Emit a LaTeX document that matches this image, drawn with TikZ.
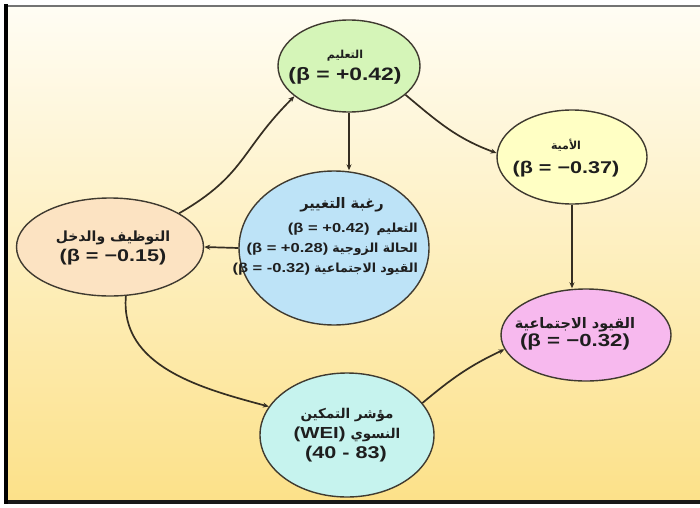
\documentclass[tikz,border=0pt]{standalone}
\usepackage{fontspec}
\setmainfont{Liberation Sans}
\newfontfamily\widefont{Liberation Sans}[FakeStretch=1.27]
\newfontfamily\arabicfont[Script=Arabic]{DejaVu Sans}
\TeXXeTstate=1
\usetikzlibrary{shapes.geometric,arrows.meta}
\definecolor{bgtop}{HTML}{FFFDF4}
\definecolor{bgmid}{HTML}{FFF3CC}
\definecolor{bgbot}{HTML}{FCE189}
\definecolor{edgecol}{HTML}{3F3A30}
\definecolor{linkcol}{HTML}{352E22}
\definecolor{txtcol}{HTML}{1E1E1E}
\definecolor{gfill}{HTML}{D5F5B8}
\definecolor{yfill}{HTML}{FFFFC4}
\definecolor{bfill}{HTML}{BDE3F7}
\definecolor{pfill}{HTML}{FCE3C2}
\definecolor{kfill}{HTML}{F7B9EE}
\definecolor{cfill}{HTML}{C6F3EE}
% Arabic run (size) and Latin run (size), each boxed
\newcommand\arb[2]{\hbox{\arabicfont\bfseries\fontsize{#1}{#1}\selectfont #2}}
\newcommand\lat[2]{\hbox{\TeXXeTstate=0 \widefont\bfseries\fontsize{#1}{#1}\selectfont #2}}
\begin{document}
\begin{tikzpicture}[x=1pt,y=1pt,
  bubble/.style={ellipse, draw=edgecol, line width=1.4pt, inner sep=0pt},
  lbl/.style={align=center, text=txtcol, inner sep=0pt},
  link/.style={draw=linkcol, line width=1.7pt, -{Stealth[length=6pt,width=5pt]}}]
\useasboundingbox (0,0) rectangle (700,507);
\fill[white] (0,0) rectangle (700,507);
\shade[top color=bgtop, middle color=bgmid, bottom color=bgbot] (6,6) rectangle (700,501);
\draw[line width=2.5pt, black!55] (6,501) -- (700,501);
\draw[line width=3.5pt, black!90] (6,5) -- (700,5);
\draw[line width=3.5pt, black] (6,3.5) -- (6,502.5);

% ellipses
\node[bubble, fill=gfill, minimum width=142pt, minimum height=92pt] (G) at (349,441) {};
\node[bubble, fill=yfill, minimum width=150pt, minimum height=94pt] (Y) at (572,350) {};
\node[bubble, fill=bfill, minimum width=190pt, minimum height=154pt] (B) at (334,259) {};
\node[bubble, fill=pfill, minimum width=187pt, minimum height=98pt] (L) at (110,260) {};
\node[bubble, fill=kfill, minimum width=170pt, minimum height=92pt] (P) at (586,172) {};
\node[bubble, fill=cfill, minimum width=174pt, minimum height=124pt] (C) at (347,72) {};

% texts
\node[lbl, font=\fontsize{18}{22}\selectfont] (Gt) at (345,440)
  {\arb{11}{\beginR التعليم\endR}\\\lat{18}{(β = +0.42)}};
\node[lbl, font=\fontsize{17}{24}\selectfont] (Yt) at (566,349)
  {\arb{11}{\beginR الأمية\endR}\\\lat{17}{(β = −0.37)}};
\node[lbl, font=\fontsize{16}{20}\selectfont] (Lt) at (113,259)
  {\arb{14}{\beginR التوظيف والدخل\endR}\\\lat{17}{(β = −0.15)}};
\node[lbl, font=\fontsize{15}{18}\selectfont] (Pt) at (575,173)
  {\arb{14.5}{\beginR القيود الاجتماعية\endR}\\\lat{17.5}{(β = −0.32)}};
\node[lbl, font=\fontsize{15}{20}\selectfont] (Ct) at (347,82)
  {\arb{13.5}{\beginR مؤشر التمكين\endR}\\
   \hbox{\lat{16}{(WEI)}\hskip5pt\arb{13.5}{\beginR النسوي\endR}}};
\node[lbl] (Cn) at (346,53) {\lat{17}{\hbox{(40} \hbox{-} \hbox{83)}}};
\node[lbl] (Bt) at (342,302) {\arb{14.5}{\beginR رغبة التغيير\endR}};
\node[lbl, align=right, anchor=east, font=\fontsize{12.5}{20}\selectfont] (Bl) at (418,258)
  {\hbox{\lat{13}{(β = +0.42)}\hskip7pt\arb{12.5}{\beginR التعليم\endR}}\\
   \hbox{\lat{13}{(β = +0.28)}\hskip4pt\arb{12.5}{\beginR الحالة الزوجية\endR}}\\
   \hbox{\lat{13}{\hbox{(β} = \hbox{-0.32)}}\hskip4pt\arb{12.5}{\beginR القيود الاجتماعية\endR}}};

% connectors
\draw[link] (G.south) -- (G.south |- B.north);
\draw[link] (Y.south) -- (Y.south |- P.north);
\draw[link] (B.west) -- (L.east);
\draw[link] (L.26) to[out=30, in=225, looseness=1.2] (G.209);
\draw[link] (G.-27) to[out=-40, in=160] (Y.177);
\draw[link] (L.-72) to[out=-95, in=165] (C.160);
\draw[link] (C.23) to[out=40, in=205] (P.190);
\end{tikzpicture}
\end{document}
